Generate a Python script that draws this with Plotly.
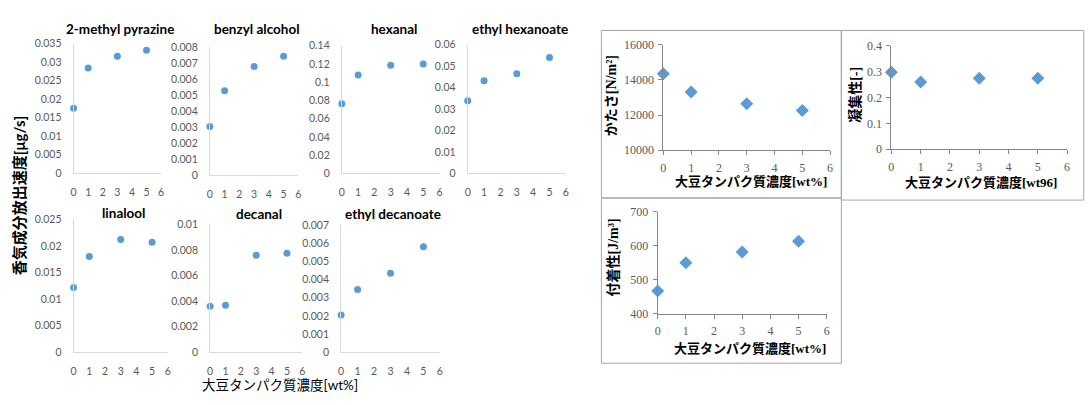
import plotly.graph_objects as go

# ---------------- data ----------------
conc = [0, 1, 3, 5]

compound_names = ["2-methyl pyrazine", "benzyl alcohol", "hexanal", "ethyl hexanoate",
                  "linalool", "decanal", "ethyl decanoate"]
pyrazine = [0.0175, 0.0284, 0.0316, 0.0332]
benzyl_alcohol = [0.00304, 0.00528, 0.00679, 0.00744]
hexanal = [0.0762, 0.1079, 0.1185, 0.1199]
ethyl_hexanoate = [0.0339, 0.0432, 0.0464, 0.0540]
linalool = [0.0122, 0.0180, 0.0212, 0.0207]
decanal = [0.00359, 0.00367, 0.00757, 0.00774]
ethyl_decanoate = [0.00205, 0.00345, 0.00435, 0.0058]

hardness = [14350, 13310, 12635, 12250]
cohesiveness = [0.297, 0.260, 0.274, 0.274]
adhesiveness = [467, 550, 582, 614]

y_max_left = [0.035, 0.008, 0.14, 0.06, 0.025, 0.01, 0.007]
y_dtick_left = [0.005, 0.001, 0.02, 0.01, 0.005, 0.002, 0.001]

left_ytitle = "香気成分放出速度[μg/s]"
left_xtitle = "大豆タンパク質濃度[wt%]"
right_ytitles = ["かたさ[N/m²]", "凝集性[-]", "付着性[J/m³]"]
right_xtitles = ["大豆タンパク質濃度[wt%]", "大豆タンパク質濃度[wt96]", "大豆タンパク質濃度[wt%]"]
right_yranges = [[10000, 16000], [0, 0.4], [400, 700]]
right_dticks = [2000, 0.1, 100]

# ---------------- layout helpers ----------------
W, H = 1088, 405


def px_x(v):
    return v / W


def px_y(v):
    return 1 - v / H


def dom(x0, x1, y0, y1):
    return [px_x(x0), px_x(x1)], [px_y(y1), px_y(y0)]


left_boxes = [
    (71, 159, 38, 172),
    (208, 297, 41.7, 174),
    (340.7, 439, 40, 172.3),
    (467.3, 566, 39, 172.3),
    (71, 165.7, 220, 357.7),
    (208.3, 301, 225, 357.7),
    (340, 439.3, 225.7, 357.7),
]
left_title_y = [23, 23, 23, 23, 213.5, 214, 214]
right_boxes = [
    (664, 831.7, 39, 148.3),
    (893.3, 1070, 40, 147.3),
    (658.3, 828.3, 212.3, 317.7),
]

BLUE = "#5b9bd5"
SANS = "Lato, 'Noto Sans CJK JP', sans-serif"
SERIF = "'Liberation Serif', 'Noto Sans CJK JP', serif"

fig = go.Figure()
layout = dict(
    width=W, height=H, autosize=False,
    margin=dict(l=0, r=0, t=0, b=0),
    paper_bgcolor="white", plot_bgcolor="white",
    showlegend=False,
    annotations=[], shapes=[],
)

left_series = [pyrazine, benzyl_alcohol, hexanal, ethyl_hexanoate, linalool, decanal, ethyl_decanoate]

idx = 0
for i, (name, ys) in enumerate(zip(compound_names, left_series)):
    idx += 1
    xa = "x" if idx == 1 else f"x{idx}"
    ya = "y" if idx == 1 else f"y{idx}"
    xd, yd = dom(*left_boxes[i])
    fig.add_trace(go.Scatter(x=conc, y=ys, mode="markers", xaxis=xa, yaxis=ya,
                             marker=dict(color=BLUE, size=7), cliponaxis=False))
    layout["xaxis" if idx == 1 else f"xaxis{idx}"] = dict(
        domain=xd, anchor=ya, range=[0, 6], dtick=1, tick0=0,
        showline=True, linecolor="#d9d9d9", linewidth=1, showgrid=False, zeroline=False,
        ticks="", ticklabelstandoff=9,
        tickfont=dict(family=SANS, size=10.5, color="#595959"), fixedrange=True)
    layout["yaxis" if idx == 1 else f"yaxis{idx}"] = dict(
        domain=yd, anchor=xa, range=[0, y_max_left[i]], dtick=y_dtick_left[i], tick0=0,
        showline=True, linecolor="#d9d9d9", linewidth=1, showgrid=False, zeroline=False,
        ticks="", ticklabelstandoff=9,
        tickfont=dict(family=SANS, size=10.5, color="#595959"), fixedrange=True)
    x0, x1, y0, y1 = left_boxes[i]
    layout["annotations"].append(dict(
        text=f"<b>{name}</b>", xref="paper", yref="paper",
        x=px_x((x0 + x1) / 2 + 3), y=px_y(left_title_y[i]), xanchor="center", yanchor="middle",
        showarrow=False, font=dict(family=SANS, size=13.5, color="#000000")))

# left shared titles
layout["annotations"].append(dict(
    text=f"<b>{left_ytitle}</b>", xref="paper", yref="paper", x=px_x(16), y=px_y(195),
    xanchor="center", yanchor="middle", textangle=-90, showarrow=False,
    font=dict(family=SANS, size=15, color="#000000")))
layout["annotations"].append(dict(
    text=left_xtitle, xref="paper", yref="paper", x=px_x(279), y=px_y(392),
    xanchor="center", yanchor="middle", showarrow=False,
    font=dict(family=SANS, size=13.5, color="#000000")))

right_series = [hardness, cohesiveness, adhesiveness]
right_xtitle_pos = [(751.7, 181), (983.5, 182), (751, 353.5)]
right_ytitle_pos = [(611.7, 92), (856.7, 91), (613.3, 259.5)]

for j, ys in enumerate(right_series):
    idx += 1
    xa, ya = f"x{idx}", f"y{idx}"
    xd, yd = dom(*right_boxes[j])
    fig.add_trace(go.Scatter(x=conc, y=ys, mode="markers", xaxis=xa, yaxis=ya,
                             marker=dict(color=BLUE, size=10, symbol="diamond"),
                             cliponaxis=False))
    layout[f"xaxis{idx}"] = dict(
        domain=xd, anchor=ya, range=[0, 6], dtick=1, tick0=0,
        showline=True, linecolor="#868686", linewidth=1, showgrid=False, zeroline=False,
        ticks="outside", ticklen=4, tickcolor="#868686", ticklabelstandoff=2,
        tickfont=dict(family=SERIF, size=12, color="#595959"), fixedrange=True)
    layout[f"yaxis{idx}"] = dict(
        domain=yd, anchor=xa, range=right_yranges[j], dtick=right_dticks[j],
        tick0=right_yranges[j][0], tickformat="~g" if j == 1 else "d",
        showline=True, linecolor="#868686", linewidth=1, showgrid=False, zeroline=False,
        ticks="outside", ticklen=4, tickcolor="#868686", ticklabelstandoff=2,
        tickfont=dict(family=SERIF, size=12, color="#595959"), fixedrange=True)
    tx, ty = right_xtitle_pos[j]
    layout["annotations"].append(dict(
        text=f"<b>{right_xtitles[j]}</b>", xref="paper", yref="paper",
        x=px_x(tx), y=px_y(ty), xanchor="center", yanchor="middle", showarrow=False,
        font=dict(family=SERIF, size=13, color="#000000")))
    vx, vy = right_ytitle_pos[j]
    layout["annotations"].append(dict(
        text=f"<b>{right_ytitles[j]}</b>", xref="paper", yref="paper",
        x=px_x(vx), y=px_y(vy), xanchor="center", yanchor="middle", textangle=-90,
        showarrow=False, font=dict(family=SERIF, size=14, color="#000000")))

# frames around the right-hand charts
frames = [(601.7, 843, 24.3, 197.7), (843, 1086.7, 24.3, 200), (601.7, 843, 198, 369)]
for fx0, fx1, fy0, fy1 in frames:
    layout["shapes"].append(dict(
        type="rect", xref="paper", yref="paper",
        x0=px_x(fx0), x1=px_x(fx1), y0=px_y(fy1), y1=px_y(fy0),
        line=dict(color="#a6a6a6", width=1), fillcolor="rgba(0,0,0,0)", layer="below"))

fig.update_layout(**layout)
fig.write_html("out.html", config={"displayModeBar": False},
               post_script="document.body.style.margin='0';")
